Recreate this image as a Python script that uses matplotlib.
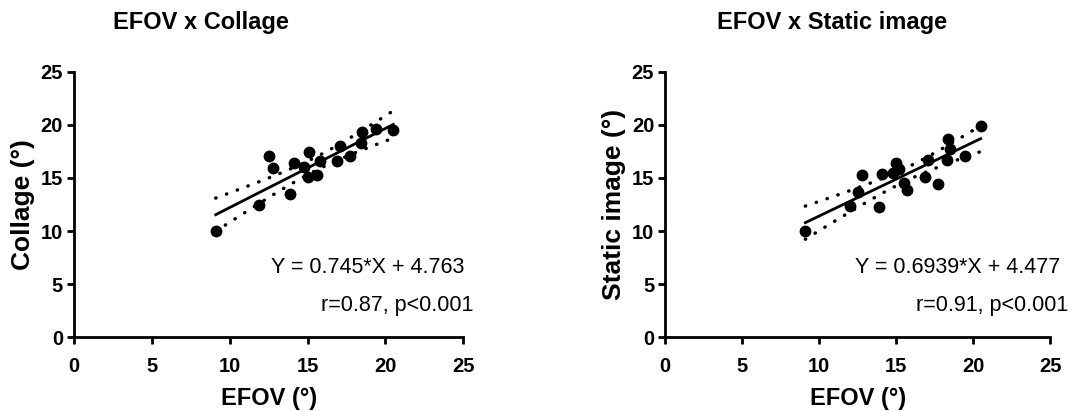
import numpy as np
import matplotlib.pyplot as plt

plt.rcParams['font.family'] = ['Liberation Sans', 'DejaVu Sans']

# EFOV vs Collage
efov_c = [9.1, 11.9, 12.5, 12.8, 13.9, 14.1, 14.8, 15.0, 15.1, 15.6, 15.8, 16.9, 17.1, 17.7, 18.4, 18.5, 19.4, 20.5]
collage = [10.0, 12.5, 17.1, 15.9, 13.5, 16.4, 16.0, 15.1, 17.4, 15.3, 16.6, 16.6, 18.0, 17.1, 18.3, 19.3, 19.6, 19.5]
fit_c = (0.745, 4.763)

# EFOV vs Static image
efov_s = [9.1, 12.0, 12.5, 12.8, 13.9, 14.1, 14.8, 15.0, 15.2, 15.5, 15.7, 16.9, 17.1, 17.7, 18.3, 18.4, 18.5, 19.5, 20.5]
static = [10.0, 12.4, 13.7, 15.3, 12.3, 15.4, 15.5, 16.4, 15.8, 14.5, 13.9, 15.1, 16.7, 14.4, 16.7, 18.7, 17.7, 17.1, 19.9]
fit_s = (0.6939, 4.477)

titles = ['EFOV x Collage', 'EFOV x Static image']
ylabels = ['Collage (°)', 'Static image (°)']
eq_text = ['Y = 0.745*X + 4.763', 'Y = 0.6939*X + 4.477']
r_text = ['r=0.87, p<0.001', 'r=0.91, p<0.001']

fig = plt.figure(figsize=(10.86, 4.11), dpi=100)
W, H = 1086, 411
ax1 = fig.add_axes([74 / W, 1 - 337.3 / H, 389.3 / W, 265.6 / H])
ax2 = fig.add_axes([665.3 / W, 1 - 337.3 / H, 384.7 / W, 265.6 / H])

panels = [(ax1, efov_c, collage, fit_c, 25.1), (ax2, efov_s, static, fit_s, 25.65)]
for i, (ax, x, y, fit, tx) in enumerate(panels):
    x = np.array(x)
    y = np.array(y)
    slope, icpt = fit
    xs = np.linspace(x.min(), x.max(), 100)
    yhat = slope * xs + icpt
    # 95% confidence band of the fit
    n = len(x)
    resid = y - (slope * x + icpt)
    s = np.sqrt(np.sum(resid ** 2) / (n - 2))
    sxx = np.sum((x - x.mean()) ** 2)
    ci = 2.11 * s * np.sqrt(1 / n + (xs - x.mean()) ** 2 / sxx)

    ax.plot(x, y, 'o', color='black', ms=7.5, zorder=3)
    ax.plot(xs, yhat, color='black', lw=2)
    for band in (yhat + ci, yhat - ci):
        ax.plot(xs, band, color='black', lw=2.5, linestyle=(0, (0.1, 3.2)),
                dash_capstyle='round')

    ax.set_xlim(0, 25)
    ax.set_ylim(0, 25)
    ax.set_xticks([0, 5, 10, 15, 20, 25])
    ax.set_yticks([0, 5, 10, 15, 20, 25])
    for sp in ['top', 'right']:
        ax.spines[sp].set_visible(False)
    for sp in ['left', 'bottom']:
        ax.spines[sp].set_linewidth(2)
    ax.tick_params(width=2, length=5, labelsize=14.5)
    ax.tick_params(axis='x', pad=9)
    ax.tick_params(axis='y', pad=3)
    for lab in ax.get_xticklabels() + ax.get_yticklabels():
        lab.set_fontweight('bold')
    ax.set_xlabel('EFOV (°)', fontsize=17, fontweight='bold', labelpad=8)
    ax.set_ylabel(ylabels[i], fontsize=19, fontweight='bold', labelpad=4)

    ax.text(tx, 6.6, eq_text[i], ha='right', va='center', fontsize=15.5)
    ax.text(tx + 0.55, 3.0, r_text[i], ha='right', va='center', fontsize=15.5)

fig.text(201 / W, 1 - 22 / H, titles[0], ha='center', va='center', fontsize=17, fontweight='bold')
fig.text(832 / W, 1 - 22 / H, titles[1], ha='center', va='center', fontsize=17, fontweight='bold')

fig.savefig('out.png', dpi=100)
